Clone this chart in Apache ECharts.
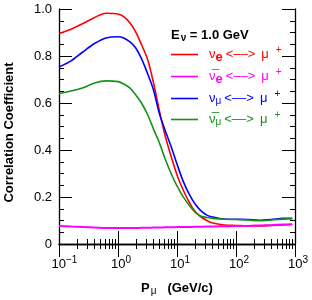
<!DOCTYPE html>
<html>
<head>
<meta charset="utf-8">
<script src="https://cdn.jsdelivr.net/npm/echarts@6/dist/echarts.min.js"></script>
<style>html,body{margin:0;padding:0;background:#fff;}#c{width:312px;height:300px;}</style>
</head>
<body>
<div id="c"></div>
<script>
// ---- data ----
const pMu    = [0.1,0.16,0.25,0.4,0.63,1,1.25,1.6,2,2.5,3.2,4,5,6.3,8,10,12.5,16,20,25,32,40,63,100,160,250,400,630,900];
const nuE    = [0.896,0.914,0.937,0.964,0.982,0.979,0.968,0.94,0.902,0.849,0.783,0.685,0.57,0.46,0.371,0.294,0.234,0.179,0.14,0.117,0.10,0.089,0.081,0.079,0.077,0.077,0.079,0.081,0.083];
const nuEbar = [0.077,0.074,0.072,0.070,0.068,0.068,0.068,0.068,0.068,0.069,0.069,0.070,0.070,0.071,0.071,0.072,0.072,0.072,0.073,0.073,0.074,0.074,0.076,0.077,0.077,0.079,0.081,0.083,0.084];
const nuMu   = [0.753,0.779,0.816,0.853,0.877,0.882,0.877,0.86,0.834,0.789,0.723,0.655,0.557,0.483,0.413,0.340,0.272,0.213,0.172,0.143,0.123,0.115,0.106,0.105,0.104,0.101,0.104,0.109,0.109];
const nuMubar= [0.640,0.651,0.664,0.685,0.694,0.691,0.681,0.663,0.634,0.60,0.549,0.489,0.432,0.362,0.298,0.247,0.204,0.166,0.136,0.119,0.113,0.109,0.105,0.104,0.102,0.099,0.102,0.106,0.108];
const xExponents  = ['\u22121','0','1','2','3'];
const yTickLabels = ['0','0.2','0.4','0.6','0.8','1.0'];
const seriesNames  = ['nue','nuebar','numu','numubar'];
const seriesColors = ['#ff0000','#ff00ff','#0000ff','#17911b'];

const FONT = 'Liberation Sans';
const pairs = arr => pMu.map((p,i)=>[p,arr[i]]);

const ARROW = '<\u2013\u2013>';
const legendText = {
  nue:     '{g|ν}{sub|e}{t|' + ARROW + '}{g|μ}{sup|+}',
  nuebar:  '{g|ν\u0305}{sub|e}{t|' + ARROW + '}{g|μ}{sup|+}',
  numu:    '{g|ν}{subm|μ}{t|' + ARROW + '}{g|μ}{sup|+}',
  numubar: '{g|ν\u0305}{subm|μ}{t|' + ARROW + '}{g|μ}{sup|+}'
};

const GRID = {left:59, right:17, top:9, bottom:56, outerBoundsMode:'none', containLabel:false};
const GW = 312 - GRID.left - GRID.right;   // 236
const GH = 300 - GRID.top - GRID.bottom;   // 235
const lineStyle = {color:'#000', width:1.3};
const tickLS = () => ({color:'#000', width:1});

// axes that only carry inward-pointing ticks (outer ticks of an axis moved to the opposite side)
function xTickAxis(position, showLine){
  return {type:'log', logBase:10, min:0.1, max:1000, position:position, offset:-GH,
    axisLine:{show:showLine, lineStyle:lineStyle},
    axisTick:{show:true, inside:false, length:13, lineStyle:tickLS()},
    minorTick:{show:true, splitNumber:9, length:5, lineStyle:tickLS()},
    axisLabel:{show:false}, splitLine:{show:false}, minorSplitLine:{show:false}};
}
function yTickAxis(position, showLine){
  return {type:'value', min:0, max:1, interval:0.2, position:position, offset:-GW,
    axisLine:{show:showLine, lineStyle:lineStyle},
    axisTick:{show:true, inside:false, length:13, lineStyle:tickLS()},
    minorTick:{show:true, splitNumber:4, length:5, lineStyle:tickLS()},
    axisLabel:{show:false}, splitLine:{show:false}, minorSplitLine:{show:false}};
}

const chart = echarts.init(document.getElementById('c'), null, {renderer:'canvas'});
const option = {
  animation:false,
  textStyle:{fontFamily:FONT},
  grid:GRID,
  title:{
    text:'{b|E}{s|ν}{b| = 1.0 GeV}',
    left:166, top:22,
    textStyle:{rich:{
      b:{fontFamily:FONT, fontWeight:'bold', fontSize:13, color:'#000'},
      s:{fontFamily:FONT, fontSize:10, color:'#000', padding:[6,0,0,1]}
    }}
  },
  legend:{
    orient:'vertical', left:171, top:45, padding:0,
    icon:'rect', itemWidth:27, itemHeight:1.6, itemGap:3.5,
    data: seriesNames.map((n,i)=>({name:n, textStyle:{color:seriesColors[i]}})),
    formatter: n => legendText[n],
    textStyle:{fontFamily:FONT, fontSize:13, padding:[0,0,0,6], rich:{
      g:{fontFamily:FONT, fontSize:13},
      sub:{fontFamily:FONT, fontSize:13, fontWeight:'bold', padding:[5,3,0,0]},
      subm:{fontFamily:FONT, fontSize:10, padding:[6,3,0,0]},
      t:{fontFamily:FONT, fontSize:13, padding:[0,6,0,0]},
      sup:{fontFamily:FONT, fontSize:10, padding:[0,0,9,7]}
    }}
  },
  xAxis:[{
    type:'log', logBase:10, min:0.1, max:1000, position:'bottom',
    axisLine:{lineStyle:lineStyle},
    axisTick:{show:false}, minorTick:{show:false},
    splitLine:{show:false}, minorSplitLine:{show:false},
    axisLabel:{
      margin:11,
      formatter: v => {
        const e = xExponents[Math.round(Math.log10(v))+1];
        return '{' + (e.length > 1 ? 'pw' : 'pn') + '|}{b|10}{s|' + e + '}';
      },
      rich:{
        pw:{width:11}, pn:{width:6},
        b:{fontFamily:FONT, fontSize:13, color:'#000'},
        s:{fontFamily:FONT, fontSize:10, color:'#000', padding:[0,0,8,0]}
      }
    },
    name:'{b|P}{m|μ}{b|   (GeV/c)}', nameLocation:'middle', nameGap:36,
    nameTextStyle:{rich:{
      b:{fontFamily:FONT, fontWeight:'bold', fontSize:13, color:'#000'},
      m:{fontFamily:FONT, fontSize:10, color:'#000', padding:[6,0,0,1]}
    }}
  },
  xTickAxis('top', false),
  xTickAxis('bottom', true)
  ],
  yAxis:[{
    type:'value', min:0, max:1, interval:0.2, position:'left',
    axisLine:{show:true, lineStyle:lineStyle},
    axisTick:{show:false}, minorTick:{show:false},
    splitLine:{show:false}, minorSplitLine:{show:false},
    axisLabel:{margin:7, fontFamily:FONT, fontSize:13, color:'#000',
      formatter: v => yTickLabels[Math.round(v/0.2)]},
    name:'Correlation Coefficient', nameLocation:'middle', nameGap:43,
    nameTextStyle:{fontFamily:FONT, fontWeight:'bold', fontSize:13, color:'#000', padding:[0,12,0,0]}
  },
  yTickAxis('right', false),
  yTickAxis('left', true)
  ],
  series:[
    {name:'nue', data:pairs(nuE)},
    {name:'nuebar', data:pairs(nuEbar)},
    {name:'numu', data:pairs(nuMu)},
    {name:'numubar', data:pairs(nuMubar)}
  ].map((s,i)=>Object.assign(s,{
    type:'line', xAxisIndex:0, yAxisIndex:0, symbol:'none', smooth:0.3,
    color:seriesColors[i],
    lineStyle:{width: i===1 ? 2 : 1.6, color:seriesColors[i]}
  }))
};
chart.setOption(option);
</script>
</body>
</html>
